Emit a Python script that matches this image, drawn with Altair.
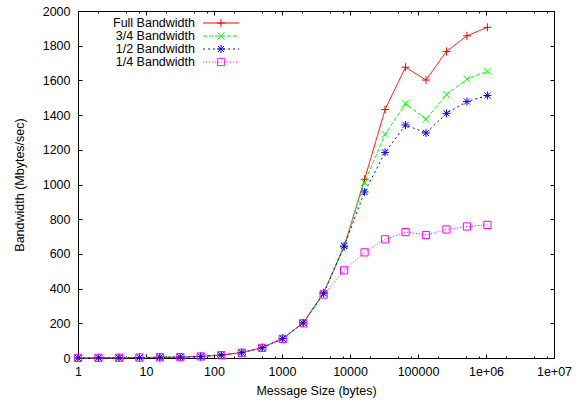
import math
import altair as alt
import pandas as pd

# ---------------- data ----------------
sizes = [1, 2, 4, 8, 16, 32, 64, 128, 256, 512, 1024, 2048, 4096, 8192,
         16384, 32768, 65536, 131072, 262144, 524288, 1048576]
full_bw = [0.5, 1, 1.5, 2.5, 4, 5, 9, 17, 31, 60, 113, 203, 376, 640,
           1030, 1432, 1676, 1602, 1767, 1857, 1906]
three_quarter_bw = [0.5, 1, 1.5, 2.5, 4, 5, 9, 17, 31, 59, 112, 202, 374, 650,
                    1012, 1289, 1466, 1376, 1518, 1607, 1653]
half_bw = [0.5, 1, 1.5, 2.5, 4, 5, 9, 17, 31, 59, 112, 202, 373, 645,
           957, 1185, 1343, 1297, 1410, 1478, 1513]
quarter_bw = [0.5, 1, 1.5, 2.5, 4, 5, 9, 16, 30, 58, 110, 200, 366, 505,
              609, 684, 726, 709, 741, 758, 767]

series_names = ["Full Bandwidth", "3/4 Bandwidth", "1/2 Bandwidth", "1/4 Bandwidth"]
series_values = [full_bw, three_quarter_bw, half_bw, quarter_bw]

x_tick_values = [1, 10, 100, 1000, 10000, 100000, 1000000, 10000000]
x_tick_labels = ["1", "10", "100", "1000", "10000", "100000", "1e+06", "1e+07"]
x_minor_mult = [2, 5, 8]
y_tick_values = [0, 200, 400, 600, 800, 1000, 1200, 1400, 1600, 1800, 2000]

# ---------------- style ----------------
series_colors = ["#ff0000", "#00ff00", "#0000ff", "#ff00ff"]
series_dashes = [[1, 0], [4, 2], [2, 3], [1, 2]]
FONT = "Liberation Sans"
FS = 12.5
UNIT_PX = 4.0  # symbol size 64 -> 4 px per path unit

# marker geometry in symbol units (segments)
plus = [(-1, 0, 1, 0), (0, -1, 0, 1)]
cross = [(-0.85, -0.85, 0.85, 0.85), (-0.85, 0.85, 0.85, -0.85)]
star = plus + [(-0.75, -0.75, 0.75, 0.75), (-0.75, 0.75, 0.75, -0.75)]
sq = [(-0.9, -0.9, 0.9, -0.9), (0.9, -0.9, 0.9, 0.9),
      (0.9, 0.9, -0.9, 0.9), (-0.9, 0.9, -0.9, -0.9)]
markers = [plus, cross, star, sq]


def seg_path(segs, max_len=None):
    parts = []
    for (x1, y1, x2, y2) in segs:
        L = math.hypot(x2 - x1, y2 - y1)
        n = 1 if not max_len else max(1, math.ceil(L / max_len - 1e-9))
        for i in range(n):
            a, b = i / n, (i + 1) / n
            parts.append("M%.3f,%.3fL%.3f,%.3f" % (
                x1 + (x2 - x1) * a, y1 + (y2 - y1) * a,
                x1 + (x2 - x1) * b, y1 + (y2 - y1) * b))
    return "".join(parts)


point_paths = [seg_path(m) for m in markers]
legend_paths = []
for m, d in zip(markers, series_dashes):
    on = d[0] / UNIT_PX if d[1] > 0 else None
    legend_paths.append("M-4.5,0L4.5,0" + seg_path(m, on))


def by_series(values, quote=True):
    fmt = (lambda v: "'%s'" % v) if quote else (lambda v: str(v).replace(" ", ""))
    expr = fmt(values[-1])
    for name, v in reversed(list(zip(series_names[:-1], values[:-1]))):
        expr = "datum.value === '%s' ? %s : (%s)" % (name, fmt(v), expr)
    return expr


label_expr = "'%s'" % x_tick_labels[-1]
for v, lab in reversed(list(zip(x_tick_values[:-1], x_tick_labels[:-1]))):
    label_expr = "datum.value < %r ? '%s' : (%s)" % (v * 3.1623, lab, label_expr)

x_minor_values = [m * t for t in x_tick_values[:-1] for m in x_minor_mult]

rows = []
for k, (name, vals) in enumerate(zip(series_names, series_values)):
    for s, v in zip(sizes, vals):
        rows.append({"size": s, "bw": v, "series": name, "k": k})
df = pd.DataFrame(rows)

xscale = alt.Scale(type="log", domain=[1, 1e7], nice=False)
yscale = alt.Scale(domain=[0, 2000], nice=False)
cscale = alt.Scale(domain=series_names, range=series_colors)

tick_common = dict(grid=False, domain=False, tickColor="black", tickWidth=1,
                   labelFont=FONT, labelFontSize=FS, labelColor="black",
                   labelFlush=False, labelOverlap=False, labelBound=False,
                   titleFont=FONT, titleFontSize=FS, titleFontWeight="normal",
                   titleColor="black")

x_bottom = alt.Axis(orient="bottom", values=x_tick_values, labelExpr=label_expr,
                    tickSize=4, offset=-4, labelPadding=7,
                    title="Message Size (bytes)", titlePadding=7, **tick_common)
y_left = alt.Axis(orient="left", values=y_tick_values, format="d",
                  tickSize=4, offset=-4, labelPadding=8,
                  title="Bandwidth (Mbytes/sec)", titlePadding=16, **tick_common)
x_top = alt.Axis(orient="top", values=x_tick_values, labels=False,
                 tickSize=4, offset=-4, **tick_common)
y_right = alt.Axis(orient="right", values=y_tick_values, labels=False,
                   tickSize=4, offset=-4, **tick_common)
x_bottom_minor = alt.Axis(orient="bottom", values=x_minor_values, labels=False,
                          tickSize=2, offset=-2, **tick_common)
x_top_minor = alt.Axis(orient="top", values=x_minor_values, labels=False,
                       tickSize=2, offset=-2, **tick_common)

legend = alt.Legend(
    title=None, orient="none", legendX=136.75, legendY=5.75,
    padding=0, rowPadding=0, symbolOffset=0,
    symbolSize=64, symbolStrokeWidth=1,
    symbolType={"expr": by_series(legend_paths)},
    symbolDash={"expr": by_series(series_dashes, quote=False)},
    symbolStrokeColor={"expr": by_series(series_colors)},
    symbolFillColor="transparent",
    labelAlign="right", labelOffset={"expr": "-32.25"}, labelBaseline="middle",
    labelFont=FONT, labelFontSize=FS, labelColor="black",
)

base = alt.Chart(df)

lines = base.mark_line(strokeWidth=1).encode(
    x=alt.X("size:Q", scale=xscale, axis=x_bottom),
    y=alt.Y("bw:Q", scale=yscale, axis=y_left),
    color=alt.Color("series:N", scale=cscale, legend=legend),
    strokeDash=alt.StrokeDash("series:N", scale=alt.Scale(domain=series_names, range=series_dashes), legend=None),
    detail="series:N",
)

point_layers = []
for k, name in enumerate(series_names):
    point_layers.append(
        base.transform_filter(alt.datum.series == name)
        .mark_point(filled=False, size=64, strokeWidth=1, opacity=1,
                    shape=point_paths[k], color=series_colors[k])
        .encode(
            x=alt.X("size:Q", scale=xscale, axis=None),
            y=alt.Y("bw:Q", scale=yscale, axis=None),
        )
    )

ghost_major = base.mark_point(opacity=0).encode(
    x=alt.X("size:Q", scale=xscale, axis=x_top, title=None),
    y=alt.Y("bw:Q", scale=yscale, axis=y_right, title=None),
)
ghost_minor_b = base.mark_point(opacity=0).encode(
    x=alt.X("size:Q", scale=xscale, axis=x_bottom_minor, title=None),
    y=alt.Y("bw:Q", scale=yscale, axis=None),
)
ghost_minor_t = base.mark_point(opacity=0).encode(
    x=alt.X("size:Q", scale=xscale, axis=x_top_minor, title=None),
    y=alt.Y("bw:Q", scale=yscale, axis=None),
)

chart = alt.layer(lines, *point_layers, ghost_major, ghost_minor_b, ghost_minor_t).resolve_axis(
    x="independent", y="independent"
).properties(
    width=476, height=347,
    autosize=alt.AutoSizeParams(type="none"),
    padding={"left": 78, "top": 11, "right": 25, "bottom": 42},
    background="white",
).configure_view(stroke="black", strokeWidth=1)

chart.save("out.html", embed_options={"renderer": "svg", "actions": False})
